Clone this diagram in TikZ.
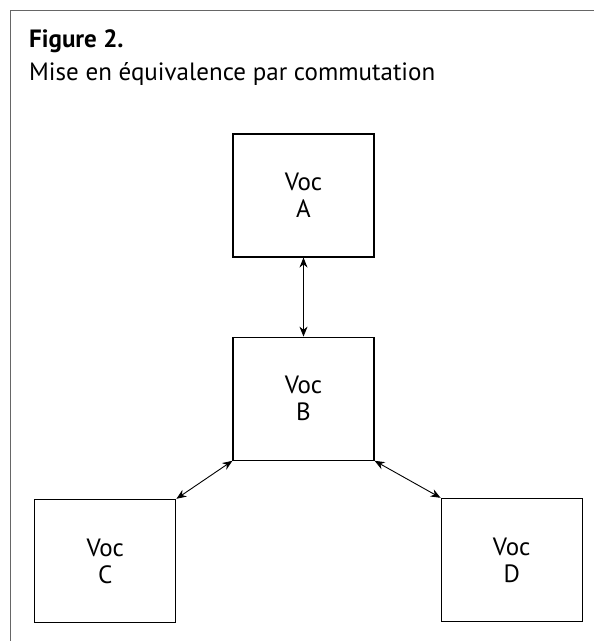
\documentclass[tikz,border=0pt]{standalone}
\usepackage{fontspec}
\setmainfont{PT Sans}
\usepackage{tikz}
\usetikzlibrary{arrows.meta,positioning}
\tikzstyle{voc} = [rectangle, minimum width=141pt, minimum height=123pt, text centered, align=center, draw=black, line width=1.2pt, font=\fontsize{25}{27}\selectfont]
\tikzstyle{arrow} = [line width=0.9pt, {Stealth[length=10pt,width=8pt]}-{Stealth[length=10pt,width=8pt]}]
\tikzstyle{caption} = [anchor=base west, inner sep=0pt, font=\fontsize{25}{30}\selectfont]

\begin{document}
\begin{tikzpicture}[x=1pt, y=-1pt]
\useasboundingbox (0,0) rectangle (594,641);
% frame, only the top and left sides show
\draw [gray!80!black, line width=1pt] (10,641) |- (594,10);

\node (title) [caption, font=\fontsize{25}{30}\selectfont\bfseries] at (29,47) {Figure 2.};
\node (subtitle) [caption] at (29,80) {Mise en équivalence par commutation};

\node (A) [voc] at (303.5,195.5) {Voc\\A};
\node (B) [voc, below=79pt of A] {Voc\\B};
\node (C) [voc, below left=38pt and 56pt of B] {Voc\\C};
\node (D) [voc, below right=37pt and 66pt of B] {Voc\\D};

\draw [arrow] (A) -- (B);
\draw [arrow] (B.south west) -- (C.north east);
\draw [arrow] (B.south east) -- (D.north west);

\end{tikzpicture}
\end{document}
